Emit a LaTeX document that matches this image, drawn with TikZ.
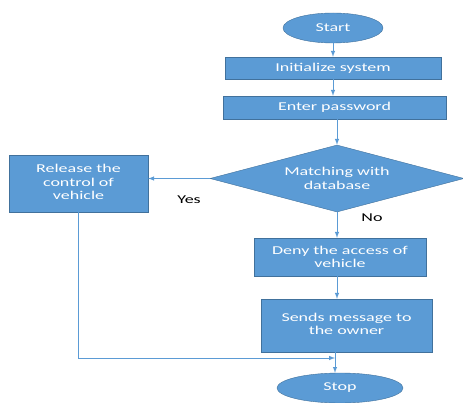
\documentclass[tikz,border=0pt]{standalone}
\usepackage{fontspec}
\setmainfont{Carlito}[FakeStretch=1.5]
\usetikzlibrary{arrows,shapes}
\definecolor{boxblue}{HTML}{5B9BD5}
\definecolor{boxline}{HTML}{41719C}
\tikzstyle{flow}=[x=1pt, y=-1pt, every node/.style={fill=boxblue, draw=boxline,
                text=white, inner sep=0, align=center, font=\fontsize{12}{13.5}\selectfont}]
\tikzstyle{blk}=[rectangle]
\tikzstyle{term}=[ellipse]
\tikzstyle{dec}=[diamond, aspect=3.8]
\tikzstyle{lbl}=[fill=none, draw=none, text=black]
\tikzstyle{conn}=[->, >=latex, draw=boxblue, line width=1pt]
\newcommand{\upbox}[2]{\raisebox{#1}{\begin{tabular}{@{}c@{}}#2\end{tabular}}}

\begin{document}
\begin{tikzpicture}[flow]
  \useasboundingbox (0,0) rectangle (463,403);
  \node[term, minimum width=100pt, minimum height=30pt] (start) at (333,28) {Start};
  \node[blk, minimum width=216pt, minimum height=22pt] (init) at (333,68) {Initialize system};
  \node[blk, minimum width=223pt, minimum height=23pt] (pass) at (334.5,107.5) {Enter password};
  \node[dec, minimum width=254pt, minimum height=67pt] (match) at (337,178.5) {Matching with\\database};
  \node[blk, minimum width=139pt, minimum height=57pt] (rel) at (78.5,183.5) {\upbox{3pt}{Release the\\control of\\vehicle}};
  \node[blk, minimum width=172pt, minimum height=38pt] (deny) at (340,257) {Deny the access of\\vehicle};
  \node[blk, minimum width=171pt, minimum height=53pt] (send) at (346.5,325.5) {\upbox{5pt}{Sends message to\\the owner}};
  \node[term, minimum width=126pt, minimum height=30pt] (stop) at (340,388) {Stop};
  \node[lbl] (yes) at (189,200) {Yes};
  \node[lbl] (no) at (372,218) {No};
  \coordinate (j) at (335,358);
  \draw[conn] (start) -- (init);
  \draw[conn] (init) -- (init |- pass.north);
  \draw[conn] (pass.south -| match) -- (match.north);
  \draw[conn] (match.west) -- (match.west -| rel.east);
  \draw[conn] (match.south) -- (match.south |- deny.north);
  \draw[conn] (deny.south -| match) -- (match |- send.north);
  \draw[conn] (send.south -| j) -- (j |- stop.north);
  \draw[conn] (rel.south) |- (j);
\end{tikzpicture}
\end{document}
